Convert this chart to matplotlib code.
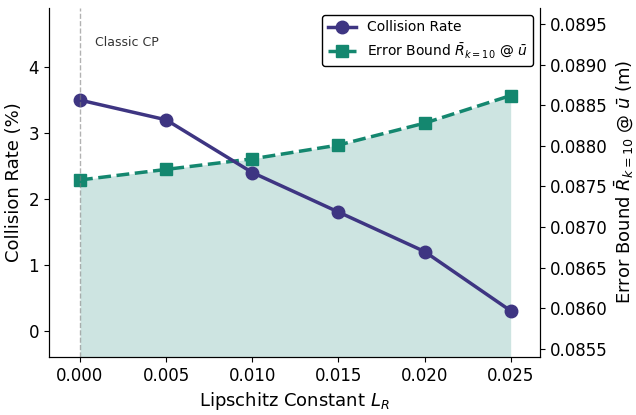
import matplotlib
matplotlib.use('Agg')
import matplotlib.pyplot as plt

# data
lipschitz = [0.000, 0.005, 0.010, 0.015, 0.020, 0.025]
collision_rate = [3.5, 3.2, 2.4, 1.8, 1.2, 0.3]
error_bound = [0.08758, 0.08771, 0.08784, 0.08801, 0.08828, 0.08862]

purple = '#3e3582'
teal = '#14876f'

fig, ax = plt.subplots(figsize=(6.36, 4.15), dpi=100)
ax2 = ax.twinx()

# fill under the error bound curve
ax2.fill_between(lipschitz, error_bound, 0.0854, color='#9ccbc4', alpha=0.5, lw=0)
l2, = ax2.plot(lipschitz, error_bound, color=teal, ls='--', lw=2.5, marker='s', ms=8,
               label=r'Error Bound $\bar{R}_{k=10}$ @ $\bar{u}$')

l1, = ax.plot(lipschitz, collision_rate, color=purple, lw=2.5, marker='o', ms=9,
              label='Collision Rate')
ax.axvline(0, color='gray', ls='--', lw=1, alpha=0.6)
ax.text(0.0009, 4.38, 'Classic CP', fontsize=9, color='#333333', va='center')

ax.set_zorder(ax2.get_zorder() + 1)
ax.patch.set_visible(False)

ax.set_xlim(-0.0018, 0.0267)
ax.set_ylim(-0.4, 4.9)
ax2.set_ylim(0.0854, 0.0897)
ax.set_xticks(lipschitz)
ax.set_yticks([0, 1, 2, 3, 4])
ax2.set_yticks([0.0855, 0.0860, 0.0865, 0.0870, 0.0875, 0.0880, 0.0885, 0.0890, 0.0895])
ax.tick_params(labelsize=12)
ax2.tick_params(labelsize=12)

ax.set_xlabel(r'Lipschitz Constant $L_R$', fontsize=13)
ax.set_ylabel('Collision Rate (%)', fontsize=13)
ax2.set_ylabel(r'Error Bound $\bar{R}_{k=10}$ @ $\bar{u}$ (m)', fontsize=13)

for a in (ax, ax2):
    a.spines['top'].set_visible(False)

leg = ax.legend(handles=[l1, l2], loc='upper right', fontsize=10, frameon=True,
                framealpha=1, edgecolor='black')

fig.subplots_adjust(left=0.077, right=0.849, bottom=0.140, top=0.981)
plt.savefig('out.png')
plt.close()
